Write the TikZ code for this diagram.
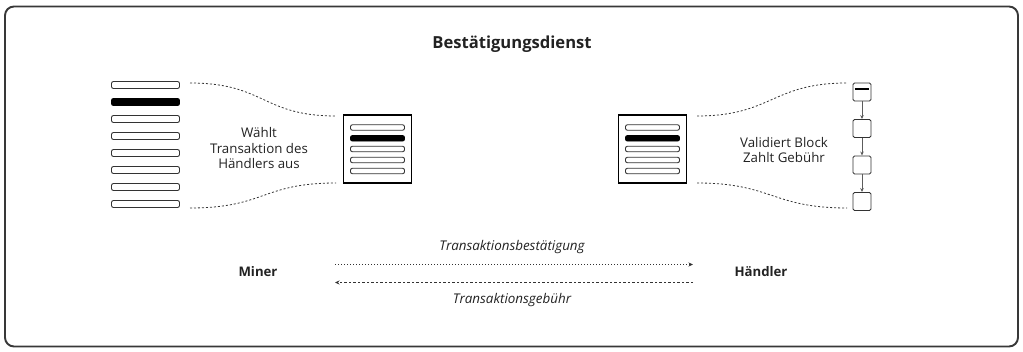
\documentclass[tikz,border=0pt]{standalone}
\usepackage{fontspec}
\setmainfont{Open Sans}
\usetikzlibrary{arrows.meta,shadows}
\definecolor{ink}{HTML}{222222}
\definecolor{line}{HTML}{333333}
\tikzset{
  frame/.style={draw=ink!90, line width=1.9pt, rounded corners=9pt},
  bar/.style={draw=line, line width=0.9pt, rounded corners=2pt, fill=white, minimum width=68pt, minimum height=7pt, inner sep=0pt},
  blackbar/.style={bar, fill=black, draw=black},
  minibar/.style={draw=line, line width=0.9pt, rounded corners=2pt, fill=white, minimum width=54pt, minimum height=5.5pt, inner sep=0pt},
  miniblack/.style={minibar, fill=black, draw=black},
  poolbox/.style={draw=black, line width=1.3pt, fill=white, minimum width=68pt, minimum height=68pt, inner sep=0pt, drop shadow={shadow xshift=0pt, shadow yshift=0pt, opacity=0.12, fill=black!40}},
  chainbox/.style={draw=line, line width=0.9pt, rounded corners=1.5pt, fill=white, minimum width=18pt, minimum height=18pt, inner sep=0pt},
  chainarrow/.style={draw=line!80, line width=0.7pt, -{Stealth[length=4pt,width=3.5pt]}},
  curve/.style={draw=line, line width=0.8pt, dash pattern=on 2pt off 2pt},
  body/.style={font=\fontsize{13.3}{15.5}\selectfont, text=ink, align=center},
  title/.style={font=\fontsize{16.6}{19}\selectfont\bfseries, text=ink},
  party/.style={font=\fontsize{13.2}{15}\selectfont\bfseries, text=ink},
  flowlabel/.style={font=\fontsize{13.4}{15}\selectfont\itshape, text=ink},
  flowtop/.style={draw=line, line width=0.8pt, dash pattern=on 1.2pt off 1.8pt, -{Stealth[length=4.5pt,width=4pt]}},
  flowbot/.style={draw=line, line width=0.8pt, dash pattern=on 2.5pt off 2pt, -{Stealth[length=4.5pt,width=4pt]}},
}
\begin{document}
\begin{tikzpicture}[x=1pt,y=-1pt]
\useasboundingbox (0,0) rectangle (1023,352);
\draw[frame] (5,6.5) rectangle (1018,346.5);

\node[title] (title) at (512,44) {Bestätigungsdienst};

% left list
\foreach \i/\y in {1/85,3/119,4/136,5/153,6/170,7/187,8/204}{
  \node[bar] (L\i) at (145.5,\y) {};
}
\node[blackbar] (L2) at (145.5,102) {};

% left pool box
\node[poolbox] (PL) at (377.5,149) {};
\foreach \i/\y in {1/127.5,3/149,4/160,5/171}{
  \node[minibar] (PL\i) at (377.5,\y) {};
}
\node[miniblack] (PL2) at (377.5,138.3) {};

% right pool box
\node[poolbox] (PR) at (652.5,149) {};
\foreach \i/\y in {1/127.5,3/149,4/160,5/171}{
  \node[minibar] (PR\i) at (652.5,\y) {};
}
\node[miniblack] (PR2) at (652.5,138.3) {};

% chain
\node[chainbox] (C1) at (862,92) {};
\node[chainbox] (C2) at (862,128.5) {};
\node[chainbox] (C3) at (862,165) {};
\node[chainbox] (C4) at (862,201.5) {};
\draw[black, line width=2pt] ([xshift=2pt,yshift=3pt]C1.west) -- ([xshift=-2pt,yshift=3pt]C1.east);
\draw[chainarrow] (C1) -- (C2);
\draw[chainarrow] (C2) -- (C3);
\draw[chainarrow] (C3) -- (C4);

% dashed connecting curves
\coordinate (a1) at (190,83);
\coordinate (a2) at (336,116);
\coordinate (b1) at (190,208);
\coordinate (b2) at (336,183);
\draw[curve] (a1) .. controls (265,83) and (262,116) .. (a2);
\draw[curve] (b1) .. controls (265,208) and (262,183) .. (b2);
\coordinate (c1) at (697,116);
\coordinate (c2) at (847,83);
\coordinate (d1) at (697,183);
\coordinate (d2) at (847,208);
\draw[curve] (c1) .. controls (772,116) and (772,83) .. (c2);
\draw[curve] (d1) .. controls (772,183) and (772,208) .. (d2);

% texts
\node[body] (t1) at (259,148.5) {Wählt\\Transaktion des\\Händlers aus};
\node[body] (t2) at (784,150) {Validiert Block\\Zahlt Gebühr};

% parties
\node[party] (miner) at (258,272) {Miner};
\node[party] (haendler) at (761,272) {Händler};
\coordinate (m1) at (335,264.5);
\coordinate (h1) at (693,264.5);
\coordinate (m2) at (335,282.5);
\coordinate (h2) at (693,282.5);
\draw[flowtop] (m1) -- (h1);
\draw[flowbot] (h2) -- (m2);
\node[flowlabel] (l1) at (512,247) {Transaktionsbestätigung};
\node[flowlabel] (l2) at (512,300) {Transaktionsgebühr};
\end{tikzpicture}
\end{document}
